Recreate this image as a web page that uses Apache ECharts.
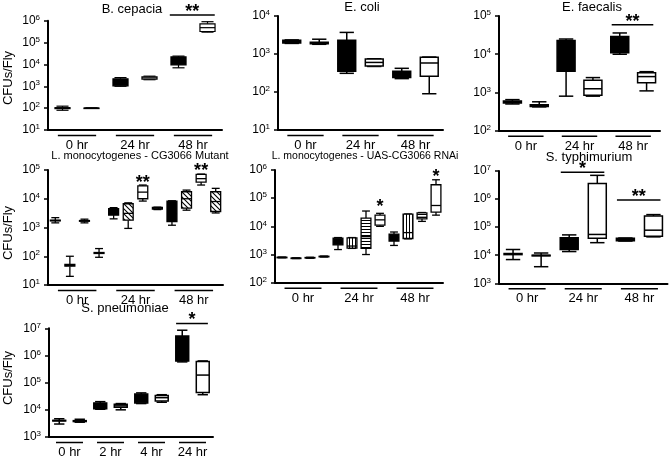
<!DOCTYPE html>
<html><head><meta charset="utf-8">
<script src="https://cdn.jsdelivr.net/npm/echarts@6/dist/echarts.min.js"></script>
<style>html,body{margin:0;padding:0;background:#fff}#c{width:669px;height:459px}</style>
</head><body><div id="c"></div>
<script>
// ---------------- DATA (box stats: [min, q1, median, q3, max]) ----------------
const cepaciaGroups = ['0 hr', '24 hr', '48 hr'];
const cepaciaStrains = ['Control', 'Mutant'];
const cepaciaStats = [
  [80, 95, 100, 105, 123], [97, 99, 100, 101, 103],
  [1000, 1050, 1500, 2200, 2500], [2000, 2100, 2400, 2700, 2900],
  [7000, 9500, 14000, 22000, 24000], [300000, 320000, 480000, 720000, 900000]
];
const cepaciaSig = [[4, 5, 1.8e6, '**']];

const coliGroups = ['0 hr', '24 hr', '48 hr'];
const coliStrains = ['Control', 'Mutant'];
const coliStats = [
  [1900, 1950, 2100, 2300, 2350], [1800, 1850, 1950, 2050, 2450],
  [310, 350, 550, 2300, 3700], [470, 480, 600, 740, 750],
  [225, 240, 290, 350, 420], [90, 260, 580, 820, 830]
];
const coliSig = [];

const faecalisGroups = ['0 hr', '24 hr', '48 hr'];
const faecalisStrains = ['Control', 'Mutant'];
const faecalisStats = [
  [500, 530, 570, 600, 650], [420, 430, 450, 480, 570],
  [800, 3600, 8300, 23000, 25000], [800, 850, 1250, 2100, 2450],
  [10000, 11000, 17500, 29000, 36000], [1100, 1800, 2600, 3300, 3500]
];
const faecalisSig = [[4, 5, 5.9e4, '**']];

const monoMutGroups = ['0 hr', '24 hr', '48 hr'];
const monoMutStrains = ['Control', 'Line A', 'Line B', 'Line C'];
const monoMutStats = [
  [1450, 1700, 1750, 1800, 2200], [20, 45, 48, 52, 100], [1450, 1650, 1700, 1750, 1950], [92, 125, 130, 135, 185],
  [2000, 2700, 3200, 4500, 4900], [930, 1800, 3100, 6700, 7200], [8300, 10000, 17000, 28000, 30000], [4200, 4400, 4700, 5000, 5100],
  [1200, 1600, 3000, 8300, 8500], [4000, 4700, 10000, 17500, 20000], [30000, 38000, 50000, 70000, 72000], [3200, 3600, 8000, 17500, 23000]
];
const monoMutSig = [[6, 6, 2.7e4, '**'], [10, 10, 7.4e4, '**']];

const monoRnaiGroups = ['0 hr', '24 hr', '48 hr'];
const monoRnaiStrains = ['Control', 'RNAi A', 'RNAi B', 'RNAi C'];
const monoRnaiStats = [
  [770, 780, 790, 800, 810], [720, 730, 740, 750, 760], [740, 755, 770, 785, 800], [820, 835, 850, 865, 880],
  [1500, 2200, 2800, 3800, 4000], [1650, 1700, 2000, 3900, 4000], [1000, 1650, 4300, 19500, 35000], [10000, 11000, 17000, 25000, 29000],
  [2100, 3000, 4000, 5300, 6300], [3600, 3700, 6000, 27000, 27500], [15000, 18500, 21000, 30000, 31000], [25000, 32000, 55000, 300000, 450000]
];
const monoRnaiSig = [[7, 7, 3.9e4, '*'], [11, 11, 4.5e5, '*']];

const typhiGroups = ['0 hr', '24 hr', '48 hr'];
const typhiStrains = ['Control', 'Mutant'];
const typhiStats = [
  [7000, 10500, 11000, 11500, 16000], [3900, 9500, 9800, 10000, 12000],
  [13500, 16000, 25000, 42000, 53000], [28000, 40000, 55000, 3600000, 7000000],
  [32000, 33000, 36000, 40000, 41000], [45000, 47000, 78000, 250000, 280000]
];
const typhiSig = [[2, 3, 9e6, '*'], [4, 5, 9.3e5, '**']];

const pneumoGroups = ['0 hr', '2 hr', '4 hr', '24 hr'];
const pneumoStrains = ['Control', 'Mutant'];
const pneumoStats = [
  [3000, 3900, 4000, 4100, 4700], [3500, 3700, 3800, 4000, 4500],
  [10500, 11000, 14000, 18000, 20000], [10000, 12500, 14000, 16000, 17000],
  [17000, 18000, 26000, 38000, 42000], [19000, 21000, 28000, 34000, 36000],
  [580000, 620000, 1900000, 5200000, 8500000], [36000, 43000, 190000, 600000, 630000]
];
const pneumoSig = [[6, 7, 1.5e7, '*']];

// ---------------- RENDERING ----------------
const FONT = '"Liberation Sans", Arial, sans-serif';
function makePattern(kind) {
  const c = document.createElement('canvas');
  const ctx = c.getContext('2d');
  if (kind === 'diag') {
    c.width = 5; c.height = 5;
    ctx.fillStyle = '#fff'; ctx.fillRect(0, 0, 5, 5);
    ctx.strokeStyle = '#000'; ctx.lineWidth = 1.1;
    ctx.beginPath();
    ctx.moveTo(-1, -1); ctx.lineTo(6, 6);
    ctx.moveTo(-1, 4); ctx.lineTo(1, 6);
    ctx.moveTo(4, -1); ctx.lineTo(6, 1);
    ctx.stroke();
  } else if (kind === 'vert') {
    c.width = 3; c.height = 3;
    ctx.fillStyle = '#fff'; ctx.fillRect(0, 0, 3, 3);
    ctx.fillStyle = '#000'; ctx.fillRect(1, 0, 1, 3);
  } else {
    c.width = 3; c.height = 3;
    ctx.fillStyle = '#fff'; ctx.fillRect(0, 0, 3, 3);
    ctx.fillStyle = '#000'; ctx.fillRect(0, 1, 3, 1);
  }
  return { image: c, repeat: 'repeat' };
}
const FILL = { black: '#000', white: '#fff', diag: makePattern('diag'), vert: makePattern('vert'), horiz: makePattern('horiz') };

const panels = [
  { title: 'B. cepacia', tx: 132, ty: 9, ts: 13, groups: cepaciaGroups, strains: cepaciaStrains, stats: cepaciaStats, sig: cepaciaSig,
    fills: ['black', 'white'], left: 48, top: 20.7, width: 174, height: 109.3, yMin: 10, yMax: 1e6, bf: 0.52, lw: 1.2, yName: [8, 78] },
  { title: 'E. coli', tx: 362, ty: 7, ts: 13, groups: coliGroups, strains: coliStrains, stats: coliStats, sig: coliSig,
    fills: ['black', 'white'], left: 278, top: 16, width: 165, height: 114, yMin: 10, yMax: 1e4, bf: 0.65, lw: 1.5 },
  { title: 'E. faecalis', tx: 592, ty: 7, ts: 13, groups: faecalisGroups, strains: faecalisStrains, stats: faecalisStats, sig: faecalisSig,
    fills: ['black', 'white'], left: 499, top: 16, width: 161, height: 114.7, yMin: 100, yMax: 1e5, bf: 0.67, lw: 1.5 },
  { title: 'L. monocytogenes - CG3066 Mutant', tx: 140, ty: 156, ts: 11, groups: monoMutGroups, strains: monoMutStrains, stats: monoMutStats, sig: monoMutSig,
    fills: ['black', 'diag', 'white', 'diag'], left: 48, top: 170, width: 175, height: 115, yMin: 10, yMax: 1e5, bf: 0.68, lw: 1.3, yName: [8, 233] },
  { title: 'L. monocytogenes - UAS-CG3066 RNAi', tx: 365, ty: 156, ts: 10.5, groups: monoRnaiGroups, strains: monoRnaiStrains, stats: monoRnaiStats, sig: monoRnaiSig,
    fills: ['black', 'vert', 'horiz', 'white'], left: 275, top: 170, width: 168, height: 112.7, yMin: 100, yMax: 1e6, bf: 0.7, lw: 1.3 },
  { title: 'S. typhimurium', tx: 589, ty: 157, ts: 13, groups: typhiGroups, strains: typhiStrains, stats: typhiStats, sig: typhiSig,
    fills: ['black', 'white'], left: 499, top: 171, width: 168.5, height: 112.3, yMin: 1e3, yMax: 1e7, bf: 0.64, lw: 1.5 },
  { title: 'S. pneumoniae', tx: 125, ty: 308, ts: 13, groups: pneumoGroups, strains: pneumoStrains, stats: pneumoStats, sig: pneumoSig,
    fills: ['black', 'white'], left: 49, top: 328.3, width: 164, height: 111.7, yMin: 1e3, yMax: 1e7, bf: 0.63, lw: 1.5, yName: [8, 378] }
];

const grids = [], xAxes = [], yAxes = [], series = [], graphics = [];
panels.forEach((p, i) => {
  grids.push({ left: p.left, top: p.top, width: p.width, height: p.height });
  const boxCats = p.groups.flatMap(g => p.strains.map(s => g + ' ' + s));
  xAxes.push({
    type: 'category', gridIndex: i, data: boxCats, position: 'bottom',
    axisLine: { show: true, lineStyle: { color: '#000', width: 2 } },
    axisTick: { show: false }, axisLabel: { show: false }, splitLine: { show: false }
  });
  xAxes.push({
    type: 'category', gridIndex: i, data: p.groups, position: 'bottom',
    axisLine: { show: false }, axisTick: { show: false }, splitLine: { show: false },
    axisLabel: { show: true, margin: 9, fontSize: 13, color: '#000', fontFamily: FONT }
  });
  yAxes.push({
    type: 'log', logBase: 10, gridIndex: i, min: p.yMin, max: p.yMax,
    axisLine: { show: true, lineStyle: { color: '#000', width: 2 } },
    axisTick: { show: true, length: 4, lineStyle: { color: '#000', width: 1.5 } },
    splitLine: { show: false },
    axisLabel: {
      margin: 8, color: '#000',
      formatter: v => '{b|10}{s|' + Math.round(Math.log10(v)) + '}',
      rich: {
        b: { fontSize: 12, fontFamily: FONT, color: '#000' },
        s: { fontSize: 8, fontFamily: FONT, color: '#000', verticalAlign: 'top', padding: [0, 0, 6, 0] }
      }
    }
  });
  // boxes
  series.push({
    type: 'custom', xAxisIndex: 2 * i, yAxisIndex: i, silent: true, clip: false,
    data: p.stats.map((s, k) => [k].concat(s)),
    encode: { x: 0, y: [1, 2, 3, 4, 5] },
    renderItem: (params, api) => {
      const k = api.value(0);
      const v = [1, 2, 3, 4, 5].map(d => api.value(d));
      const yy = v.map(val => api.coord([k, val])[1]);
      const x = api.coord([k, v[2]])[0];
      const band = api.coord([1, v[2]])[0] - api.coord([0, v[2]])[0];
      const bw = band * p.bf, cw = bw * 0.8;
      const fill = FILL[p.fills[params.dataIndex % p.fills.length]];
      const st = { stroke: '#000', lineWidth: p.lw };
      return {
        type: 'group', children: [
          { type: 'line', shape: { x1: x, y1: yy[4], x2: x, y2: yy[3] }, style: st },
          { type: 'line', shape: { x1: x, y1: yy[1], x2: x, y2: yy[0] }, style: st },
          { type: 'line', shape: { x1: x - cw / 2, y1: yy[4], x2: x + cw / 2, y2: yy[4] }, style: st },
          { type: 'line', shape: { x1: x - cw / 2, y1: yy[0], x2: x + cw / 2, y2: yy[0] }, style: st },
          { type: 'rect', shape: { x: x - bw / 2, y: yy[3], width: bw, height: Math.max(yy[1] - yy[3], 0.5) },
            style: { fill: fill, stroke: '#000', lineWidth: p.lw } },
          { type: 'line', shape: { x1: x - bw / 2, y1: yy[2], x2: x + bw / 2, y2: yy[2] }, style: st }
        ]
      };
    }
  });
  // group underlines
  series.push({
    type: 'custom', xAxisIndex: 2 * i + 1, yAxisIndex: i, silent: true, clip: false,
    data: p.groups.map((g, k) => [k, p.yMin]),
    encode: { x: 0, y: 1 },
    renderItem: (params, api) => {
      const k = api.value(0);
      const pt = api.coord([k, p.yMin]);
      const band = api.coord([1, p.yMin])[0] - api.coord([0, p.yMin])[0];
      const y = pt[1] + 5.5;
      return { type: 'line', shape: { x1: pt[0] - band * 0.33, y1: y, x2: pt[0] + band * 0.33, y2: y },
        style: { stroke: '#000', lineWidth: 1.5 } };
    }
  });
  // significance markers
  if (p.sig.length) {
    series.push({
      type: 'custom', xAxisIndex: 2 * i, yAxisIndex: i, silent: true, clip: false,
      data: p.sig.map(s => [s[0], s[2]]),
      encode: { x: 0, y: 1 },
      renderItem: (params, api) => {
        const s = p.sig[params.dataIndex];
        const a = api.coord([s[0], s[2]]);
        const b = api.coord([s[1], s[2]]);
        const band = api.coord([1, s[2]])[0] - api.coord([0, s[2]])[0];
        const children = [];
        let cx = a[0];
        if (s[0] !== s[1]) {
          const x1 = a[0] - band * 0.3, x2 = b[0] + band * 0.25;
          cx = (x1 + x2) / 2;
          children.push({ type: 'line', shape: { x1: x1, y1: a[1], x2: x2, y2: a[1] }, style: { stroke: '#000', lineWidth: 1.5 } });
        }
        children.push({ type: 'text', style: { text: s[3], x: cx, y: a[1] - 3, align: 'center', verticalAlign: 'middle',
          fontSize: 18, fontWeight: 'bold', fontFamily: FONT, fill: '#000' } });
        return { type: 'group', children: children };
      }
    });
  }
  graphics.push({ type: 'text', x: p.tx, y: p.ty, silent: true,
    style: { text: p.title, align: 'center', verticalAlign: 'middle', fontSize: p.ts, fontFamily: FONT, fill: '#000' } });
  if (p.yName) {
    graphics.push({ type: 'text', x: p.yName[0], y: p.yName[1], rotation: Math.PI / 2, silent: true,
      style: { text: 'CFUs/Fly', align: 'center', verticalAlign: 'middle', fontSize: 13, fontFamily: FONT, fill: '#000' } });
  }
});

const chart = echarts.init(document.getElementById('c'), null, { renderer: 'canvas' });
chart.setOption({
  animation: false,
  backgroundColor: '#fff',
  textStyle: { fontFamily: FONT },
  grid: grids, xAxis: xAxes, yAxis: yAxes, series: series, graphic: graphics
});
</script>
</body></html>
